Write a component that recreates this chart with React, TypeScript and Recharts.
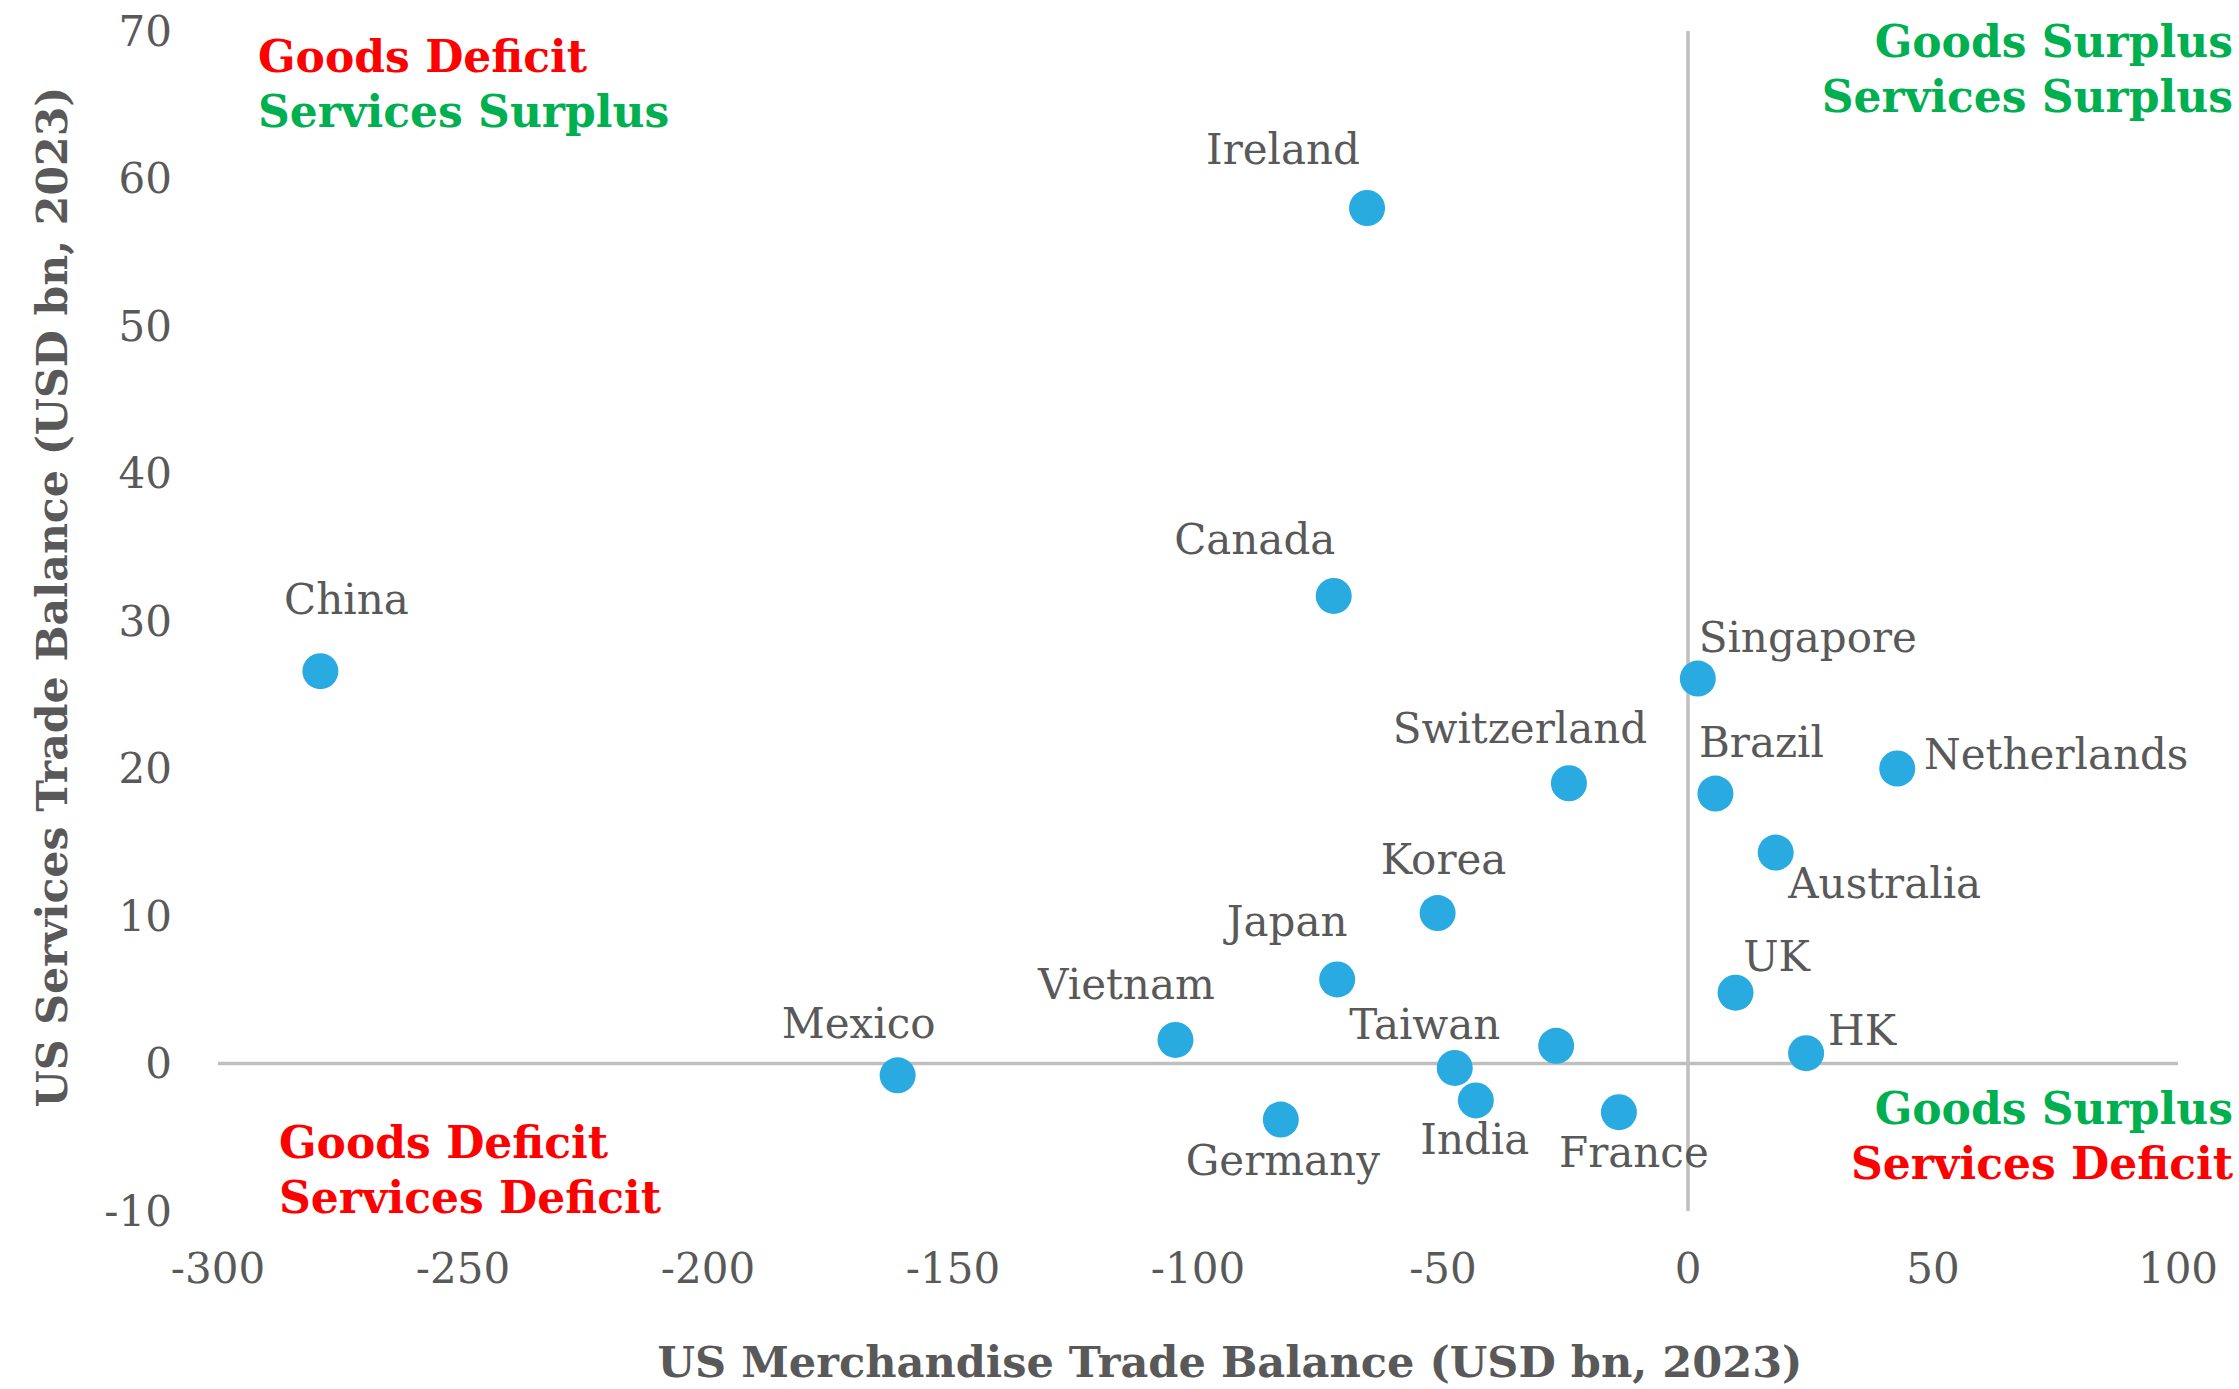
import { ScatterChart, Scatter, XAxis, YAxis, ReferenceLine } from 'recharts'

// US bilateral balances, 2023 (USD bn)
const COUNTRIES = [
  'China', 'Ireland', 'Canada', 'Singapore', 'Switzerland', 'Brazil', 'Netherlands',
  'Australia', 'Korea', 'Japan', 'UK', 'Vietnam', 'Taiwan', '', 'HK', 'Mexico',
  'India', 'Germany', 'France',
]
const GOODS = [
  -279.1, -65.5, -72.3, 2.0, -24.3, 5.6, 42.7,
  17.9, -51.1, -71.6, 9.7, -104.6, -47.6, -26.9, 24.1, -161.3,
  -43.3, -83.1, -14.1,
]
const SERVICES = [
  26.6, 58.0, 31.7, 26.1, 19.0, 18.3, 20.0,
  14.3, 10.2, 5.7, 4.8, 1.6, -0.3, 1.2, 0.7, -0.8,
  -2.5, -3.8, -3.3,
]
const X_TICKS = [-300, -250, -200, -150, -100, -50, 0, 50, 100]
const Y_TICKS = [-10, 0, 10, 20, 30, 40, 50, 60, 70]

const X_TITLE = 'US Merchandise Trade Balance (USD bn, 2023)'
const Y_TITLE = 'US Services Trade Balance (USD bn, 2023)'

// where each data label sits relative to its dot (px)
const LABEL_OFFSET: Record<string, [number, number]> = {
  China: [26, -72],
  Ireland: [-84, -59],
  Canada: [-79, -57],
  Singapore: [110, -42],
  Switzerland: [-49, -55],
  Brazil: [46, -52],
  Netherlands: [159, -15],
  Australia: [109, 30],
  Korea: [6, -54],
  Japan: [-50, -59],
  UK: [41, -37],
  Vietnam: [-49, -56],
  Taiwan: [-30, -44],
  HK: [56, -23],
  Mexico: [-39, -52],
  India: [-1, 39],
  Germany: [2, 40],
  France: [15, 40],
}

const RED = '#FF0000'
const GREEN = '#00B050'
const GREY = '#595959'
const DOT = '#29ABE2'
const FONT = "'DejaVu Serif', Georgia, serif"

const W = 2239
const H = 1389

const data = COUNTRIES.map((name, i) => ({ name, x: GOODS[i], y: SERVICES[i] }))

function Dot(props: any) {
  const { cx, cy, payload } = props
  const off = LABEL_OFFSET[payload.name]
  return (
    <g>
      <circle cx={cx} cy={cy} r={18} fill={DOT} />
      {off && (
        <text
          x={cx + off[0]}
          y={cy + off[1]}
          dy="0.36em"
          textAnchor="middle"
          fill={GREY}
          fontSize={42}
          fontFamily={FONT}
        >
          {payload.name}
        </text>
      )}
    </g>
  )
}

function QuadLabel({ x, y, anchor, lines }: { x: number; y: number; anchor: 'start' | 'end'; lines: [string, string][] }) {
  return (
    <>
      {lines.map(([txt, color], i) => (
        <text
          key={txt}
          x={x}
          y={y + i * 55}
          textAnchor={anchor}
          fill={color}
          fontSize={44}
          fontWeight="bold"
          fontFamily={FONT}
        >
          {txt}
        </text>
      ))}
    </>
  )
}

export default function App() {
  return (
    <div style={{ position: 'absolute', left: 0, top: 0, width: W, height: H, background: '#fff' }}>
      <ScatterChart width={W} height={H} margin={{ top: 31, right: 61, bottom: 118, left: 158 }}>
        <XAxis
          type="number"
          dataKey="x"
          domain={[-300, 100]}
          ticks={X_TICKS}
          axisLine={false}
          tickLine={false}
          tickSize={0}
          tickMargin={42}
          height={60}
          tick={{ fill: GREY, fontSize: 42, fontFamily: FONT }}
        />
        <YAxis
          type="number"
          dataKey="y"
          domain={[-10, 70]}
          ticks={Y_TICKS}
          axisLine={false}
          tickLine={false}
          tickSize={0}
          tickMargin={46}
          width={60}
          tick={{ fill: GREY, fontSize: 42, fontFamily: FONT }}
        />
        <ReferenceLine x={0} stroke="#BFBFBF" strokeWidth={3.5} />
        <ReferenceLine y={0} stroke="#BFBFBF" strokeWidth={3.5} />
        <Scatter data={data} shape={Dot} isAnimationActive={false} />
      </ScatterChart>
      <svg
        width={W}
        height={H}
        style={{ position: 'absolute', left: 0, top: 0, pointerEvents: 'none' }}
      >
        <QuadLabel x={258} y={72} anchor="start" lines={[['Goods Deficit', RED], ['Services Surplus', GREEN]]} />
        <QuadLabel x={2233} y={57} anchor="end" lines={[['Goods Surplus', GREEN], ['Services Surplus', GREEN]]} />
        <QuadLabel x={279} y={1158} anchor="start" lines={[['Goods Deficit', RED], ['Services Deficit', RED]]} />
        <QuadLabel x={2233} y={1124} anchor="end" lines={[['Goods Surplus', GREEN], ['Services Deficit', RED]]} />
        <text
          x={1230}
          y={1377}
          textAnchor="middle"
          fill={GREY}
          fontSize={42}
          fontWeight="bold"
          fontFamily={FONT}
          textLength={1145}
          lengthAdjust="spacingAndGlyphs"
        >
          {X_TITLE}
        </text>
        <text
          transform="translate(67 597) rotate(-90)"
          textAnchor="middle"
          fill={GREY}
          fontSize={42}
          fontWeight="bold"
          fontFamily={FONT}
          textLength={1021}
          lengthAdjust="spacingAndGlyphs"
        >
          {Y_TITLE}
        </text>
      </svg>
    </div>
  )
}
